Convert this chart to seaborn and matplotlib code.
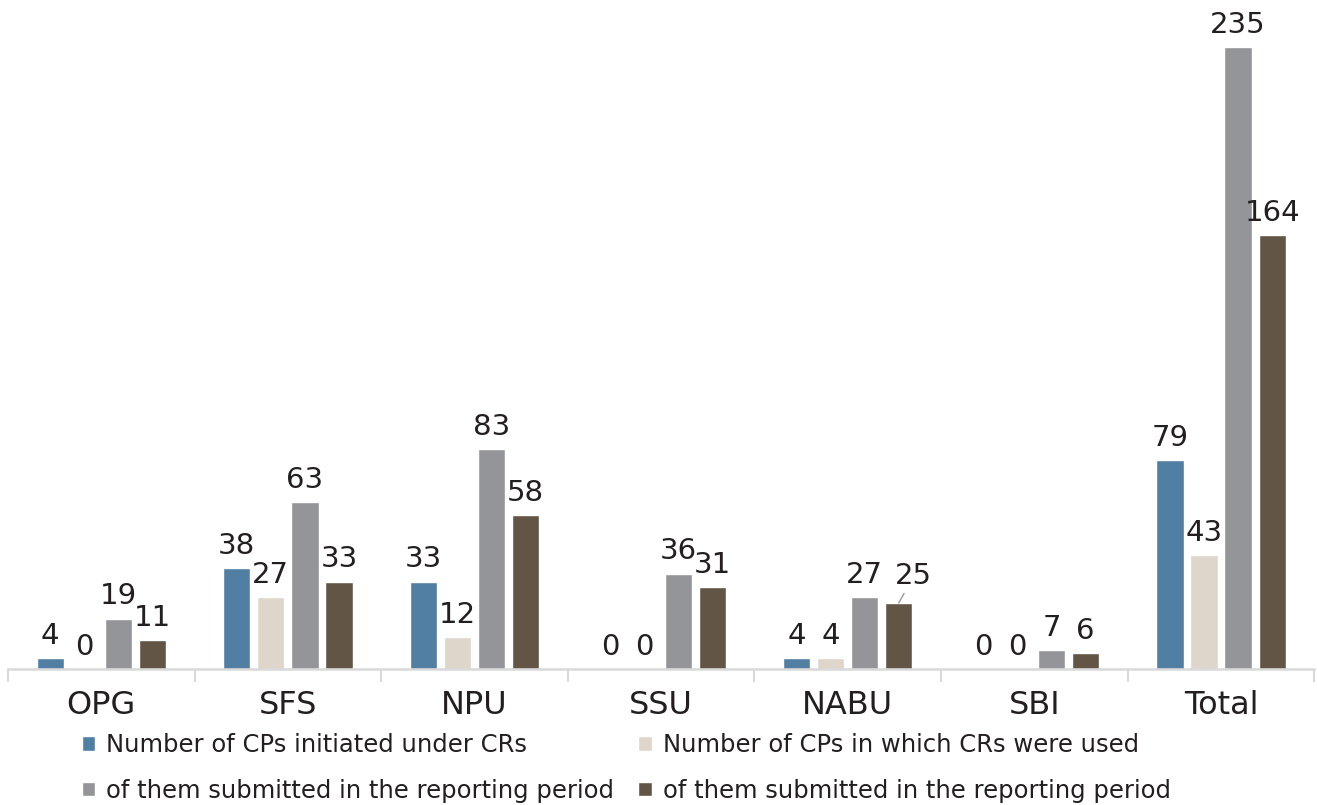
import pandas as pd
import numpy as np
import matplotlib.pyplot as plt
import seaborn as sns
from matplotlib.ticker import FixedLocator

# données
agencies = ['OPG', 'SFS', 'NPU', 'SSU', 'NABU', 'SBI', 'Total']
initiated = [4, 38, 33, 0, 4, 0, 79]
crs_used = [0, 27, 12, 0, 4, 0, 43]
submitted_a = [19, 63, 83, 36, 27, 7, 235]
submitted_b = [11, 33, 58, 31, 25, 6, 164]

series_keys = ['initiated', 'used', 'sub_a', 'sub_b']
series_labels = ['Number of CPs initiated under CRs',
                 'Number of CPs in which CRs were used',
                 'of them submitted in the reporting period',
                 'of them submitted in the reporting period']
colors = ['#517FA4', '#DED5CB', '#939598', '#635546']

df = pd.DataFrame({
    'agency': agencies * 4,
    'series': np.repeat(series_keys, len(agencies)),
    'value': initiated + crs_used + submitted_a + submitted_b,
})

sns.set_theme(style='white')
plt.rcParams['font.family'] = ['DejaVu Sans']

fig = plt.figure(figsize=(13.17, 8.05), dpi=100)
ax = fig.add_axes([0.006, 0.169, 0.992, 0.822])

sns.barplot(data=df, x='agency', y='value', hue='series', order=agencies,
            hue_order=series_keys, palette=colors, width=0.73, gap=0.2,
            saturation=1, ax=ax, legend=True)

# étiquettes de valeurs
for i, cont in enumerate(ax.containers):
    labels = [f'{int(b.get_height())}' for b in cont]
    if i == 3:
        labels[4] = ''
    ax.bar_label(cont, labels=labels, padding=6, fontsize=21, color='#231F20')

# 25 (NABU) décalé avec une ligne de rappel
bar = ax.containers[3][4]
bx = bar.get_x() + bar.get_width() / 2
ax.annotate(f'{int(bar.get_height())}', xy=(bx, bar.get_height()),
            xytext=(-3, 9), textcoords='offset points', ha='left', va='bottom',
            fontsize=21, color='#231F20',
            arrowprops=dict(arrowstyle='-', color='#A6A6A6', lw=1.2,
                            shrinkA=0, shrinkB=0, relpos=(0.3, 0)))

ax.set_ylim(0, 250)
ax.set_xlim(-0.5, len(agencies) - 0.5)
ax.set_xlabel('')
ax.set_ylabel('')
ax.set_yticks([])
for s in ['left', 'right', 'top']:
    ax.spines[s].set_visible(False)
ax.spines['bottom'].set_color('#D9D9D9')
ax.spines['bottom'].set_linewidth(1.8)

ax.xaxis.set_minor_locator(FixedLocator(np.arange(-0.5, len(agencies), 1)))
ax.tick_params(axis='x', which='major', length=0, pad=15, labelsize=23,
               labelcolor='#231F20')
ax.tick_params(axis='x', which='minor', bottom=True, length=9, width=1.5,
               color='#D9D9D9', direction='out')

handles, _ = ax.get_legend_handles_labels()
ax.get_legend().remove()
order = [0, 2, 1, 3]
fig.legend([handles[k] for k in order], [series_labels[k] for k in order],
           loc='upper left', bbox_to_anchor=(0.062, 0.089), ncol=2,
           frameon=False, fontsize=17.5, handlelength=0.55, handleheight=0.55,
           handletextpad=0.45, columnspacing=1.0, labelspacing=0.88,
           labelcolor='#231F20', borderaxespad=0, borderpad=0)

plt.savefig('out.png', dpi=100)
